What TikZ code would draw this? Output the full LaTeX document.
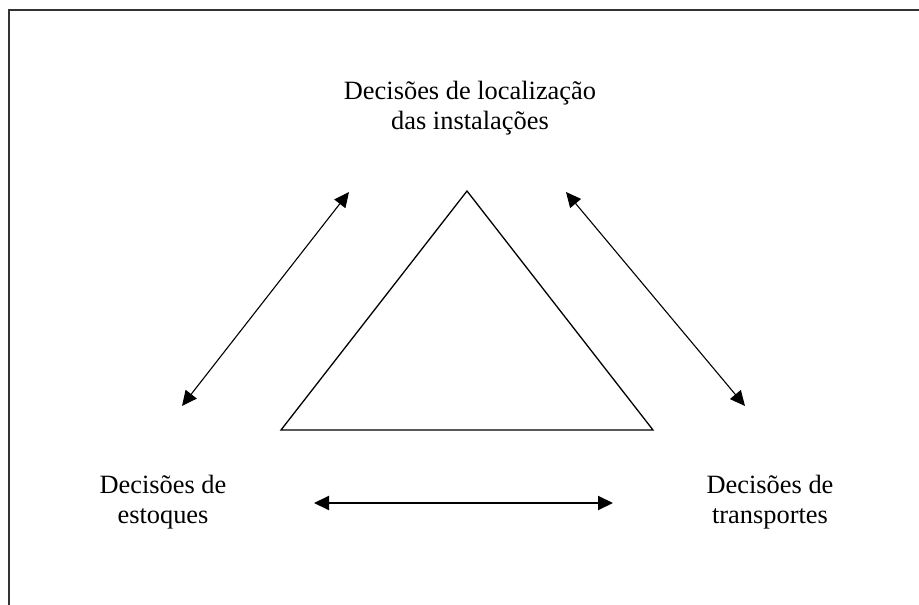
\documentclass[tikz,border=0pt]{standalone}
\usepackage{fontspec}
\setmainfont{Liberation Serif}
\usetikzlibrary{positioning,arrows.meta}

\begin{document}
\begin{tikzpicture}[x=1bp,y=-1bp,on grid,%[node distance=4cm]
    decisao/.style={align=center,inner sep=0pt,font=\fontsize{26.4bp}{30bp}\selectfont},
    link/.style={<->,>={Triangle[length=15bp,width=14bp]},line width=1.1bp}]
    \useasboundingbox (0,0) rectangle (919,605);
    \draw[black!80,line width=1.4bp] (919,10) -- (9,10) -- (9,605);

    \node[decisao] (loc) at (470,107.9) {Decisões de localização\\das instalações};
    \node[decisao, below left=394bp and 307bp of loc] (est) {Decisões de\\estoques};
    \node[decisao, below right=394bp and 300bp of loc] (tra) {Decisões de\\transportes};

    \draw[line width=1.3bp, line join=miter] (467,191) -- (653,430) -- (281,430) -- cycle;

    \coordinate (estA) at (182,406); \coordinate (locA) at (349,192);
    \coordinate (locB) at (566,192); \coordinate (traB) at (745,406);
    \coordinate (estC) at (314,503); \coordinate (traC) at (613,503);
    \path[link]
            (estA) edge (locA)
            (locB) edge (traB)
            (estC) edge[line width=2bp] (traC);
\end{tikzpicture}
\end{document}
